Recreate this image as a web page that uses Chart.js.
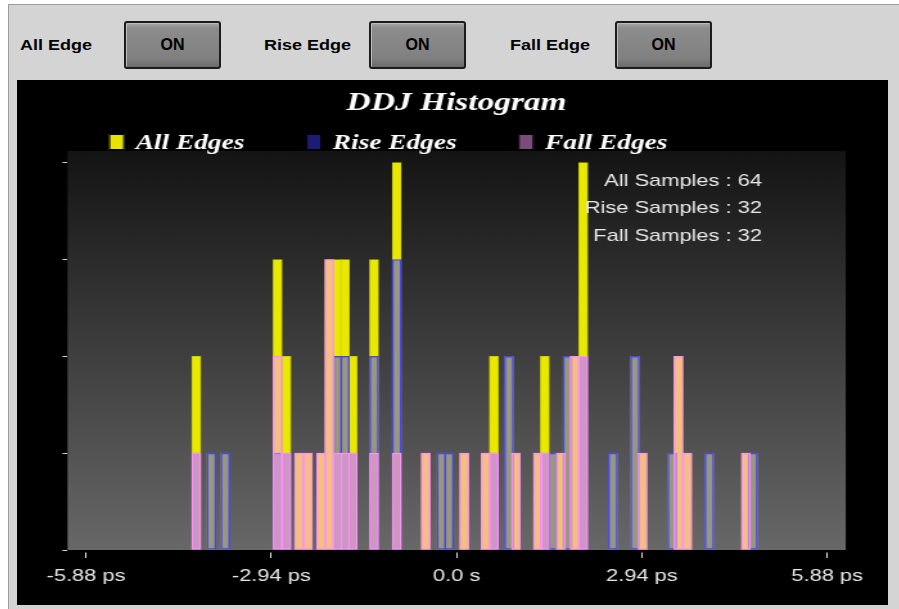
<!DOCTYPE html>
<html>
<head>
<meta charset="utf-8">
<script src="https://cdn.jsdelivr.net/npm/chart.js@4.4.1/dist/chart.umd.min.js"></script>
<style>
  html, body { margin:0; padding:0; width:899px; height:609px; overflow:hidden; background:#ffffff; }
  #frame { position:absolute; left:8px; top:4px; width:891px; height:605px; background:#d4d4d4;
           border-left:1px solid #9c9c9c; border-top:1px solid #9c9c9c; box-sizing:border-box; }
  .lbl { position:absolute; top:36px; font:bold 15px "Liberation Sans", Arial, sans-serif; color:#000;
         transform-origin:0 50%; transform:scaleX(1.2); white-space:nowrap; line-height:17px; }
  .btn { position:absolute; top:21px; width:97px; height:48px; box-sizing:border-box;
         border:2px solid #1c1c1c; border-radius:3px;
         background:linear-gradient(#a6a6a6 0%, #8c8c8c 12%, #808080 80%, #6c6c6c 100%);
         box-shadow: inset 1px 1px 0 #bdbdbd;
         display:flex; align-items:center; justify-content:center;
         font:bold 16px "Liberation Sans", Arial, sans-serif; color:#000; }
  #black { position:absolute; left:17px; top:80px; width:871px; height:525px; background:#000; overflow:hidden; }
  #stretch { position:absolute; left:0; top:0; width:678px; height:525px;
             transform:scaleX(1.28466); transform-origin:0 0; }
  canvas { display:block; }
</style>
</head>
<body>
<div id="frame"></div>
<div class="lbl" style="left:20px;">All Edge</div>
<div class="btn" style="left:124px;">ON</div>
<div class="lbl" style="left:264px;">Rise Edge</div>
<div class="btn" style="left:369px;">ON</div>
<div class="lbl" style="left:510px;">Fall Edge</div>
<div class="btn" style="left:615px;">ON</div>
<div id="black"><div id="stretch"><canvas id="c" width="678" height="525"></canvas></div></div>

<script>
// ---- data ----
const seriesNames = ['All Edges', 'Rise Edges', 'Fall Edges'];

// positions in ps and counts per bar
const allPos = [-4.13,-3.89,-3.67,-2.84,-2.70,-2.50,-2.36,-2.15,-2.02,-1.89,-1.77,-1.65,-1.31,-0.95,-0.49,-0.24,-0.12,0.12,0.46,0.59,0.83,0.94,1.29,1.40,1.53,1.65,1.76,1.87,2.01,2.48,2.83,2.95,3.42,3.52,3.66,4.01,4.59,4.70];
const allCnt = [2,1,1,3,2,1,1,1,3,3,3,2,3,4,1,1,1,1,1,2,2,1,1,2,1,1,2,2,4,1,2,1,1,2,1,1,1,1];

const risePos = [-4.13,-3.89,-3.67,-2.84,-2.70,-1.89,-1.77,-1.65,-1.31,-0.95,-0.24,-0.12,0.59,0.83,1.40,1.53,1.76,2.01,2.48,2.83,3.42,4.01,4.70];
const riseCnt = [1,1,1,1,1,2,2,1,2,3,1,1,1,2,1,1,2,2,1,2,1,1,1];

const fallPos = [-4.13,-2.84,-2.70,-2.50,-2.36,-2.15,-2.02,-1.89,-1.77,-1.65,-1.31,-0.95,-0.49,0.12,0.46,0.59,0.94,1.29,1.40,1.65,1.87,2.01,2.95,3.52,3.66,4.59];
const fallCnt = [1,2,1,1,1,1,3,1,1,1,1,1,1,1,1,1,1,1,1,1,2,2,1,2,1,1];

const xTickVals = [-5.88, -2.94, 0, 2.94, 5.88];
const xTickText = ['-5.88 ps', '-2.94 ps', '0.0 s', '2.94 ps', '5.88 ps'];
const yTickVals = [0, 1, 2, 3, 4];
const xMin = -6.174, xMax = 6.174, yMax = 4.12;

const sum = a => a.reduce((s, v) => s + v, 0);
const sampleLines = [
  'All Samples : ' + sum(allCnt),
  'Rise Samples : ' + sum(riseCnt),
  'Fall Samples : ' + sum(fallCnt)
];

// ---- styles ----
const legendColors = ['#e4e400', '#1c1c74', '#7a4c7a'];
const pts = (p, c) => p.map((x, i) => ({ x: x, y: c[i] }));

const decor = {
  id: 'decor',
  beforeDatasetsDraw(chart) {
    const { ctx, chartArea: a } = chart;
    const g = ctx.createLinearGradient(0, a.top, 0, a.bottom);
    g.addColorStop(0, '#141414');
    g.addColorStop(1, '#686868');
    ctx.save();
    ctx.fillStyle = g;
    ctx.fillRect(a.left, a.top, a.right - a.left, a.bottom - a.top);
    ctx.restore();
  },
  afterDraw(chart) {
    const { ctx, chartArea: a } = chart;
    ctx.save();
    // legend
    ctx.font = 'italic bold 21.3px "Liberation Serif", "Times New Roman", serif';
    ctx.textBaseline = 'alphabetic';
    ctx.textAlign = 'left';
    let x = a.left + 32.3;
    const boxTop = a.top - 17;
    seriesNames.forEach((name, i) => {
      ctx.fillStyle = legendColors[i];
      ctx.fillRect(x, boxTop, 12, 16);
      ctx.strokeStyle = '#000';
      ctx.lineWidth = 1;
      ctx.strokeRect(x + 0.5, boxTop + 0.5, 11, 15);
      ctx.fillStyle = '#ffffff';
      ctx.fillText(name, x + 12 + 8.8, a.top - 2.5);
      x += 12 + 8.8 + ctx.measureText(name).width + 48;
    });
    // sample counts
    ctx.font = '17px "Liberation Sans", Arial, sans-serif';
    ctx.textAlign = 'right';
    ctx.fillStyle = '#e8e8e8';
    sampleLines.forEach((t, i) => {
      ctx.fillText(t, a.right - 65.2, a.top + 34.6 + i * 27.7);
    });
    ctx.restore();
  }
};

new Chart(document.getElementById('c'), {
  type: 'bar',
  data: {
    datasets: [
      { label: seriesNames[0], data: pts(allPos, allCnt),
        backgroundColor: 'rgb(232,232,0)', borderColor: 'rgb(196,196,0)', borderWidth: 0.8, order: 2 },
      { label: seriesNames[1], data: pts(risePos, riseCnt),
        backgroundColor: 'rgba(72,72,255,0.5)', borderColor: 'rgb(70,70,240)', borderWidth: 0.8, order: 1 },
      { label: seriesNames[2], data: pts(fallPos, fallCnt),
        backgroundColor: 'rgba(255,152,250,0.5)', borderColor: 'rgb(255,145,245)', borderWidth: 0.8, order: 0 }
    ]
  },
  options: {
    responsive: false,
    animation: false,
    devicePixelRatio: 1,
    layout: { padding: { left: 0, right: 32.9, top: 0, bottom: 0 } },
    datasets: { bar: { barThickness: 7, grouped: false, borderSkipped: false } },
    plugins: {
      legend: { display: false },
      tooltip: { enabled: false },
      title: {
        display: true, text: 'DDJ Histogram', color: '#ffffff', fullSize: false,
        font: { family: '"Liberation Serif", "Times New Roman", serif', size: 26, style: 'italic', weight: 'bold' },
        padding: { top: 8, bottom: 31.8 }
      }
    },
    scales: {
      x: {
        type: 'linear', min: xMin, max: xMax, offset: false,
        afterBuildTicks: s => { s.ticks = xTickVals.map(v => ({ value: v })); },
        afterFit: s => { s.height = 55; },
        grid: { display: true, offset: false, drawOnChartArea: false, drawTicks: true, tickLength: 8,
                color: '#e0e0e0', tickBorderDash: [0, 2.5, 5.5, 50] },
        border: { display: false },
        ticks: { color: '#e6e6e6', padding: 8, maxRotation: 0, autoSkip: false,
                 font: { family: '"Liberation Sans", Arial, sans-serif', size: 17 },
                 callback: (v, i) => xTickText[i] }
      },
      y: {
        min: 0, max: yMax,
        afterBuildTicks: s => { s.ticks = yTickVals.map(v => ({ value: v })); },
        afterFit: s => { s.width = 39.3; },
        grid: { display: true, drawOnChartArea: false, drawTicks: true, tickLength: 4, color: '#d0d0d0' },
        border: { display: false },
        ticks: { display: false }
      }
    }
  },
  plugins: [decor]
});
</script>
</body>
</html>
